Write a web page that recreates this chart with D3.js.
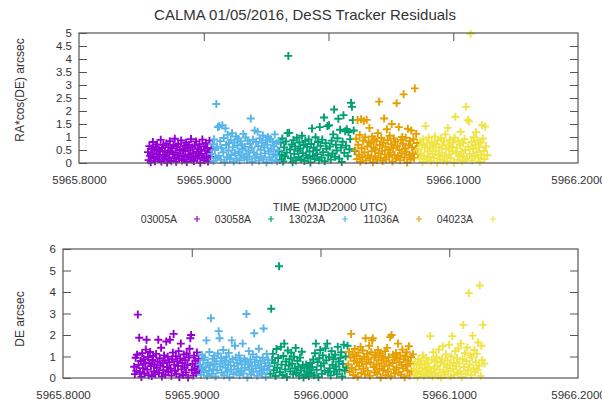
<!DOCTYPE html>
<html><head><meta charset="utf-8">
<script src="https://cdn.jsdelivr.net/npm/d3@7"></script>
<style>
body{margin:0;background:#fff}
svg{display:block}
text{font-family:"Liberation Sans",Arial,sans-serif;fill:#333}
</style>
</head><body>
<svg id="chart" width="602" height="402"></svg>
<script>
// ---- DATA ----
const T0 = 5965.8, T_UNIT = 1e-4; // sample times stored as offsets from T0 in 1e-4 day
const seriesNames = ["03005A", "03058A", "13023A", "11036A", "04023A"];
const seriesColors = ["#9400d3", "#009e73", "#56b4e9", "#e69f00", "#f0e442"];
const xTicks = [5965.8, 5965.9, 5966.0, 5966.1, 5966.2];
const raTicks = [0, 0.5, 1, 1.5, 2, 2.5, 3, 3.5, 4, 4.5, 5];
const deTicks = [0, 1, 2, 3, 4, 5, 6];

// 03005A (purple)
const time_03005A = [553,558,564,570,575,581,587,592,598,604,609,615,621,626,632,638,643,649,655,660,666,672,677,683,689,694,700,706,711,717,723,728,734,740,745,751,757,762,768,774,779,785,791,796,802,808,813,819,825,830,836,842,847,853,859,864,870,876,881,887,893,898,904,910,915,921,927,932,938,944,949,955,961,966,972,978,983,989,995,1000,1006,1012,1017,1023,1029,1034,1040,1046,1053,1062];
const ra_03005A = [.42,.11,.65,.28,.03,.56,.37,.81,.19,.48,.07,.62,.33,.71,.24,.52,.15,.44,.89,.06,.58,.31,.69,.12,.47,.26,.75,.02,.39,.61,.18,.84,.45,.09,.57,.34,.68,.21,.93,.41,.05,.63,.29,.73,.16,.5,.36,.87,.1,.54,.27,.66,.13,.46,.79,.04,.59,.32,.7,.22,.49,.92,.14,.6,.38,.08,.67,.25,.83,.43,.17,.55,.3,.72,.01,.51,.35,.9,.2,.64,.11,.47,.76,.26,.58,.06,.4,.86,.23,.53];
const de_03005A = [.52,.18,.94,.33,1.08,2.95,.61,1.87,.27,.79,.05,1.15,.46,.88,.21,.67,1.32,1.78,.39,.98,.13,.72,1.21,.55,.09,.84,1.02,.3,.63,.17,1.12,.48,.76,1.78,.24,.92,.58,1.41,.07,.69,.36,1.05,.82,.15,1.7,.51,.99,.28,.74,1.78,.43,.11,.87,1.18,2.05,.62,.34,1.01,.2,.78,.56,1.25,.04,.91,1.6,.4,.7,.14,1.09,.49,.83,.26,1.14,.6,.02,.95,1.36,1.85,2.0,.37,.66,.12,1.04,.45,.8,.23,1.19,.54,.89,.31];

// 13023A (blue)
const time_13023A = [1065,1071,1078,1083,1089,1096,1101,1107,1114,1119,1125,1132,1137,1143,1149,1156,1161,1167,1174,1179,1185,1191,1198,1203,1209,1216,1221,1227,1233,1240,1245,1251,1258,1263,1269,1275,1282,1287,1293,1300,1305,1311,1317,1324,1329,1335,1342,1347,1353,1359,1366,1371,1377,1384,1389,1395,1401,1408,1413,1419,1425,1432,1437,1443,1449,1456,1461,1467,1474,1479,1485,1491,1498,1503,1509,1516,1521,1527,1533,1540,1545,1551,1558,1563,1569,1575,1582,1587,1593,1599];
const ra_13023A = [.35,.72,.08,.91,.5,.19,2.27,.63,1.38,.27,1.42,.84,.12,.57,1.45,.41,.96,.03,1.33,.69,.22,1.08,.48,.77,.15,.88,.31,1.15,.6,.06,.79,.38,1.02,.17,.67,.93,.44,.1,.83,.29,.71,.54,1.12,.2,.62,.98,.36,.13,.86,.47,.25,.74,1.71,.58,.05,.9,.4,1.25,.18,.81,.33,1.2,.65,.09,.94,.51,.24,.78,1.06,.14,.6,.37,.87,.02,.7,1.0,.45,.21,.92,.55,.11,.82,.34,.64,1.1,.28,.76,.07,.49,.85];
const de_13023A = [.62,.15,1.08,.43,.84,.27,.96,.5,1.75,.09,.71,.33,1.21,.58,2.78,.19,.89,.41,1.03,.65,.07,.78,.36,1.14,2.18,1.85,.54,.92,.24,.68,1.3,.12,.81,.47,.99,.3,.6,1.17,.04,.74,.39,1.75,.87,.18,.56,1.5,.95,.26,.7,.44,1.05,.13,.82,.35,.63,1.6,.21,.91,.48,.77,2.98,.02,.66,1.25,.38,.86,.16,.57,1.1,.29,2.08,.73,.45,.97,.1,.61,1.36,.32,.8,.52,.2,.94,2.3,.42,.69,.06,1.12,.37,.85,.58];

// 03058A (green)
const time_03058A = [1603,1610,1617,1624,1630,1637,1644,1651,1658,1664,1671,1678,1685,1692,1698,1705,1712,1719,1726,1732,1739,1746,1753,1760,1766,1773,1780,1787,1794,1800,1807,1814,1821,1828,1834,1841,1848,1855,1862,1868,1875,1882,1889,1896,1902,1909,1916,1923,1930,1936,1943,1950,1957,1964,1970,1977,1984,1991,1998,2004,2011,2018,2025,2032,2038,2045,2052,2059,2066,2072,2079,2086,2093,2100,2106,2113,2120,2127,2134,2140,2147,2154,2161,2168,2174,2181,2188,2195,2202,2210];
const ra_03058A = [.45,.12,.78,.31,.94,.06,.6,.25,.83,.4,1.15,4.12,1.16,.52,.18,.71,.03,.88,.35,.64,.1,.97,.47,.22,.79,.56,.14,1.05,.38,.69,.08,.85,.29,.62,.19,.91,.44,.02,.73,1.33,.27,.58,.16,.99,.5,.34,.81,.11,1.38,.66,.21,.9,.42,1.75,.07,.76,.55,1.42,.3,1.45,.63,.13,.86,.37,1.1,2.06,.24,.7,.48,.95,1.7,.17,1.28,.59,.04,.82,1.84,.39,1.22,.67,1.3,.26,1.19,.53,.92,2.32,2.16,1.65,1.25,.46];
const de_03058A = [.55,.2,3.22,.84,1.12,.36,.71,.09,1.35,.48,.93,5.2,.27,1.45,.62,.14,1.02,1.6,.4,.77,.05,1.28,.58,.88,.31,1.18,.66,.17,.99,.44,1.4,.23,.8,.52,.11,.95,.35,1.22,.6,.02,.47,.16,.63,.29,.55,.08,.41,.7,.22,.5,.86,.13,1.15,1.6,.38,.74,.04,.92,1.3,.57,.19,1.05,.68,.33,1.38,.82,1.6,.25,.97,.45,.12,1.25,.61,.87,.3,1.08,.53,.18,1.45,.76,.39,.94,1.2,.07,.65,1.55,.34,1.0,.49,1.5];

// 11036A (orange)
const time_11036A = [2216,2222,2227,2233,2238,2244,2250,2255,2261,2266,2272,2278,2283,2289,2294,2300,2306,2311,2317,2322,2328,2334,2339,2345,2350,2356,2362,2367,2373,2378,2384,2390,2395,2401,2406,2412,2418,2423,2429,2434,2440,2446,2451,2457,2462,2468,2474,2479,2485,2490,2496,2502,2507,2513,2518,2524,2530,2535,2541,2546,2552,2558,2563,2569,2574,2580,2586,2591,2597,2602,2608,2614,2619,2625,2630,2636,2642,2647,2653,2658,2664,2670,2675,2681,2686,2692,2698,2703,2709,2718];
const ra_11036A = [.48,.93,.15,1.65,.7,.32,1.08,.05,1.68,.57,.22,.86,1.62,.41,.99,.1,1.66,.64,.29,.81,1.35,.18,.75,.45,1.02,.03,.6,.91,.26,.53,.84,.12,1.15,.38,2.36,.69,.2,.96,.47,.08,.78,1.71,.33,.62,.14,1.3,.88,.51,.24,1.05,.4,.72,1.5,.06,.58,.94,.31,.82,.17,2.3,.66,.27,1.38,.5,.11,.89,.36,1.0,.74,2.64,.21,.56,.97,.43,.02,1.32,.68,.3,.85,.13,1.25,.61,.37,.92,.19,2.87,.54,1.12,.77,.34];
const de_11036A = [.63,1.22,.28,.95,2.05,.47,1.1,.14,.8,1.35,.39,1.02,.71,.06,1.18,.55,.9,1.45,.23,.76,1.28,.44,.99,.17,1.85,.66,1.12,.33,.87,1.5,.1,.72,1.2,1.75,1.85,.51,.96,.27,1.06,.61,.19,1.3,.83,.42,1.15,.02,.68,1.0,.36,.91,.54,1.25,.13,.78,1.4,.3,.97,.59,1.9,.08,2.0,.7,1.08,.4,.85,.21,1.16,.49,.93,1.6,.26,.74,1.05,.15,.62,1.32,.45,.88,.04,1.0,.57,1.2,.35,.8,1.48,.12,.67,.98,.29,1.1];

// 04023A (yellow)
const time_04023A = [2723,2729,2735,2741,2747,2754,2760,2766,2772,2778,2784,2790,2796,2803,2809,2815,2821,2827,2833,2839,2845,2852,2858,2864,2870,2876,2882,2888,2894,2901,2907,2913,2919,2925,2931,2937,2943,2950,2956,2962,2968,2974,2980,2986,2992,2999,3005,3011,3017,3023,3029,3035,3041,3048,3054,3060,3066,3072,3078,3084,3090,3097,3103,3109,3115,3121,3127,3133,3139,3146,3152,3158,3164,3170,3176,3182,3188,3195,3201,3207,3213,3219,3225,3231,3237,3244,3250,3256,3262,3273];
const ra_04023A = [.52,.17,.84,.36,.69,.04,.91,.28,.61,1.42,.13,.75,.44,.98,.22,.57,.08,.8,.35,.66,.19,1.02,.47,.73,.02,.88,.31,.59,.14,.95,.4,.67,.1,.83,.26,1.1,.54,.06,1.35,.71,.33,.9,.18,.62,.45,.79,.01,.97,1.78,.38,.58,.12,.86,.29,.68,1.2,.43,.07,.76,.24,.92,.5,2.16,.16,1.65,.63,1.6,.35,4.97,.81,.09,.55,.99,.27,.7,1.18,.42,.87,.2,.6,.05,.78,.32,1.45,.94,.46,.15,1.4,.64,.3];
const de_04023A = [.4,.12,.75,.28,.58,.05,.88,.34,.66,.19,.81,.46,1.05,.09,.62,.25,.94,.37,.7,.15,.52,1.95,.3,.85,.07,1.2,.44,.78,.21,.97,.56,.11,1.32,.39,.73,.02,.9,1.48,.27,.64,.17,1.1,.49,.82,.33,1.55,.6,.08,1.0,1.95,.43,.71,.14,1.25,.55,.92,.23,1.38,.68,.31,1.6,.04,.87,2.47,.5,1.15,.2,.79,1.42,.36,3.95,.63,1.05,.13,.96,1.97,.45,1.3,.26,.74,1.12,.38,1.65,.58,4.3,.1,1.5,.83,2.47,.67];

const seriesTimes = [time_03005A, time_03058A, time_13023A, time_11036A, time_04023A];
const seriesRA = [ra_03005A, ra_03058A, ra_13023A, ra_11036A, ra_04023A];
const seriesDE = [de_03005A, de_03058A, de_13023A, de_11036A, de_04023A];

// ---- DRAW ----
const svg = d3.select("#chart");
const frameColor = "#555";
const cross = s => `M${-s},0H${s}M0,${-s}V${s}`;

svg.append("text").attr("x", 305).attr("y", 20).attr("text-anchor", "middle")
  .style("font-size", "15px").attr("fill", "#222").text("CALMA 01/05/2016, DeSS Tracker Residuals");

const panels = [
  {left: 79, right: 578, top: 33, bottom: 163, ymax: 5, ticks: raTicks, values: seriesRA,
   label: "RA*cos(DE) arcsec", labelX: 24, labelY: 90},
  {left: 63, right: 578, top: 249, bottom: 378, ymax: 6, ticks: deTicks, values: seriesDE,
   label: "DE arcsec", labelX: 24, labelY: 319}
];

panels.forEach(p => {
  const x = d3.scaleLinear().domain([xTicks[0], xTicks[xTicks.length - 1]]).range([p.left, p.right]);
  const y = d3.scaleLinear().domain([0, p.ymax]).range([p.bottom, p.top]);
  const g = svg.append("g");

  // points
  seriesNames.forEach((name, si) => {
    const pts = seriesTimes[si].map((t, i) => ({t: T0 + t * T_UNIT, v: p.values[si][i]}));
    g.append("g").selectAll("path").data(pts).join("path")
      .attr("d", cross(4))
      .attr("transform", d => `translate(${x(d.t)},${y(d.v)})`)
      .attr("stroke", seriesColors[si]).attr("stroke-width", 1.9).attr("fill", "none");
  });

  // axes
  const styleAxis = sel => {
    sel.select(".domain").remove();
    sel.selectAll(".tick line").attr("stroke", frameColor);
    sel.selectAll(".tick text").style("font-size", "11.5px").attr("fill", "#333");
  };
  g.append("g").attr("transform", `translate(${p.left},0)`)
    .call(d3.axisLeft(y).tickValues(p.ticks).tickSize(-8).tickPadding(7).tickFormat(d => String(d)))
    .call(styleAxis);
  g.append("g").attr("transform", `translate(${p.right},0)`)
    .call(d3.axisRight(y).tickValues(p.ticks.slice(1, -1)).tickSize(-8).tickFormat(""))
    .call(styleAxis);
  g.append("g").attr("transform", `translate(0,${p.top})`)
    .call(d3.axisTop(x).tickValues(xTicks.slice(1, -1)).tickSize(-8).tickFormat(""))
    .call(styleAxis);
  g.append("g").attr("transform", `translate(0,${p.bottom})`)
    .call(d3.axisBottom(x).tickValues(xTicks).tickSize(0).tickPadding(13).tickFormat(d3.format(".4f")))
    .call(styleAxis);

  g.append("rect").attr("x", p.left).attr("y", p.top)
    .attr("width", p.right - p.left).attr("height", p.bottom - p.top)
    .attr("fill", "none").attr("stroke", frameColor).attr("stroke-width", 1.2);

  g.append("text").attr("transform", `translate(${p.labelX},${p.labelY}) rotate(-90)`)
    .attr("text-anchor", "middle").style("font-size", "12px").text(p.label);
});

// x label + legend
svg.append("text").attr("x", 330).attr("y", 211).attr("text-anchor", "middle")
  .style("font-size", "11.5px").text("TIME (MJD2000 UTC)");
const legend = svg.append("g");
seriesNames.forEach((name, i) => {
  const mx = 197 + i * 74;
  legend.append("text").attr("x", mx - 20).attr("y", 223).attr("text-anchor", "end")
    .style("font-size", "10.5px").text(name);
  legend.append("path").attr("d", cross(3)).attr("transform", `translate(${mx},219)`)
    .attr("stroke", seriesColors[i]).attr("stroke-width", 1.2).attr("fill", "none");
});
</script>
</body></html>
